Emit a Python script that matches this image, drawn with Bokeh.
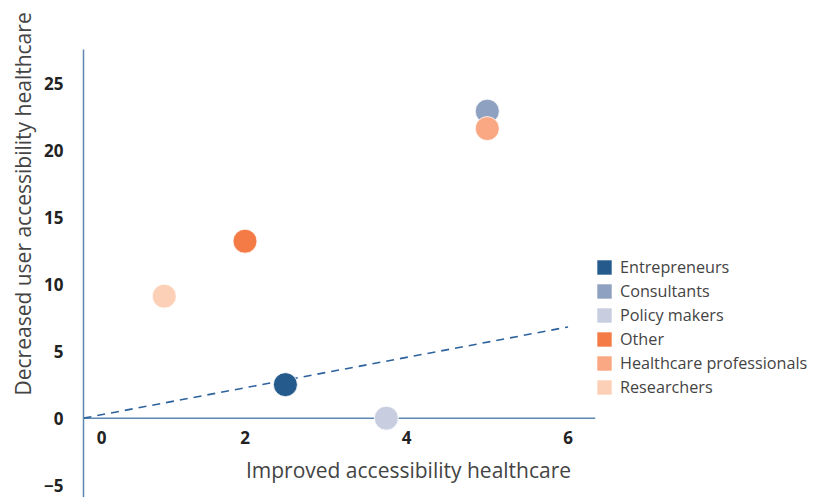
from bokeh.plotting import figure
from bokeh.models import ColumnDataSource, FixedTicker, Span, Label, Title
from bokeh.core.properties import value
from bokeh.embed import file_html
from bokeh.resources import INLINE

# ---- data ----
groups = ["Entrepreneurs", "Consultants", "Policy makers", "Other",
          "Healthcare professionals", "Researchers"]
improved = [2.5, 5.0, 3.75, 2.0, 5.0, 1.0]
decreased = [2.5, 22.9, 0.0, 13.2, 21.6, 9.1]
colors = ["#255a8c", "#8fa1c1", "#c8cee0", "#f47b45", "#f9a883", "#fcd0b7"]
trend_x = [0, 6]
trend_y = [0, 6.8]
x_ticks = [0, 2, 4, 6]
x_tick_labels = ["0", "2", "4", "6"]
y_ticks = [-5, 0, 5, 10, 15, 20, 25]

FONT = "Open Sans"
AXIS_COLOR = "#5d87b1"

p = figure(frame_width=512, frame_height=448,
           x_range=(0, 6.34), y_range=(-5.92, 27.5),
           x_axis_location=None, toolbar_location=None,
           output_backend="svg",
           min_border_left=83, min_border_top=49,
           min_border_bottom=0, min_border_right=0)
p.grid.visible = False
p.outline_line_color = None
p.background_fill_color = "white"
p.border_fill_color = "white"

# y axis
ya = p.yaxis[0]
ya.ticker = FixedTicker(ticks=y_ticks)
ya.major_tick_line_color = None
ya.minor_tick_line_color = None
ya.axis_line_color = AXIS_COLOR
ya.axis_line_width = 1.5
ya.major_label_standoff = 14
ya.major_label_text_font = FONT
ya.major_label_text_font_style = "bold"
ya.major_label_text_font_size = "17px"
ya.major_label_text_color = "#222222"

# y axis title as a left-side title, anchored near the bottom and shifted up
p.add_layout(Title(text="Decreased user accessibility healthcare",
                   align="left", offset=102, standoff=10,
                   text_font=FONT, text_font_style="normal",
                   text_font_size="21px", text_color="#444444"), "left")

# x axis line at y = 0
p.add_layout(Span(location=0, dimension="width", line_color=AXIS_COLOR,
                  line_width=1.5, level="underlay"))

# x tick labels
xs = ColumnDataSource(dict(x=x_ticks, y=[0] * len(x_ticks), t=x_tick_labels,
                           dx=[18] + [0] * (len(x_ticks) - 1)))
p.text(x="x", y="y", text="t", source=xs, x_offset="dx", y_offset=19,
       text_align="center", text_baseline="middle",
       text_font=value(FONT), text_font_style="bold",
       text_font_size="17px", text_color="#222222")

# trend line
p.line(trend_x, trend_y, line_color="#2d629c", line_width=1.6,
       line_dash="8 6")

# legend proxies (squares) and points
for g, xv, yv, c in zip(groups, improved, decreased, colors):
    p.rect(x=[xv], y=[yv], width=0, height=0, fill_color=c,
           line_color=None, legend_label=g)
for g, xv, yv, c in zip(groups, improved, decreased, colors):
    p.scatter(x=[xv], y=[yv], size=24, marker="circle", fill_color=c,
              line_color="white", line_width=0.8)

leg = p.legend[0]
leg.border_line_color = None
leg.background_fill_alpha = 0
leg.padding = 0
leg.margin = 0
leg.spacing = 2
leg.glyph_width = 18
leg.glyph_height = 18
leg.label_height = 20
leg.label_standoff = 7
leg.label_text_font = FONT
leg.label_text_font_size = "16.2px"
leg.label_text_color = "#444444"
leg.location = (0, 99)
p.add_layout(leg, "right")

# x axis title
p.add_layout(Label(x=325, y=28, x_units="screen", y_units="screen",
                   text="Improved accessibility healthcare",
                   text_align="center", text_baseline="middle",
                   text_font=FONT, text_font_size="21px",
                   text_color="#444444"))

open("out.html", "w").write(file_html(p, INLINE))
